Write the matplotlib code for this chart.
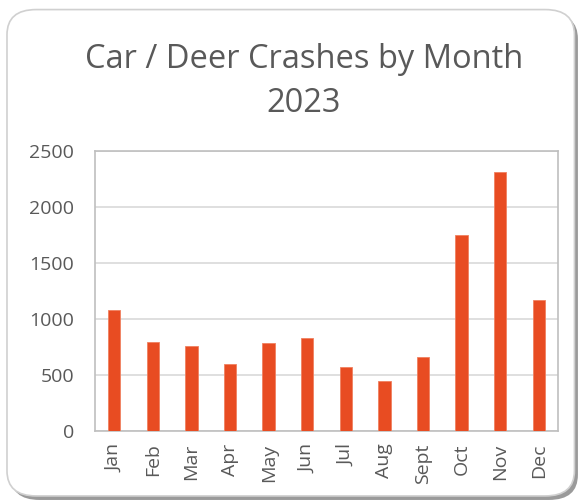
import matplotlib.pyplot as plt
from matplotlib.patches import FancyBboxPatch

months = ["Jan", "Feb", "Mar", "Apr", "May", "Jun", "Jul", "Aug", "Sept", "Oct", "Nov", "Dec"]
crashes = [1080, 795, 762, 598, 783, 828, 574, 444, 661, 1747, 2315, 1172]
yticks = [0, 500, 1000, 1500, 2000, 2500]

plt.rcParams['font.family'] = ['Open Sans', 'DejaVu Sans']

fig = plt.figure(figsize=(5.82, 5.04), dpi=100)

# rounded chart frame with a soft shadow
shadow = FancyBboxPatch((0.018, 0.008), 0.975, 0.965, boxstyle="round,pad=0,rounding_size=0.05",
                        transform=fig.transFigure, facecolor="#9a9a9a", edgecolor="none", zorder=0)
frame = FancyBboxPatch((0.012, 0.016), 0.975, 0.965, boxstyle="round,pad=0,rounding_size=0.05",
                       transform=fig.transFigure, facecolor="white", edgecolor="#d0d0d0",
                       linewidth=1.2, zorder=1)
fig.patches.extend([shadow, frame])

ax = fig.add_axes([95 / 582, 1 - 431 / 504, 463 / 582, 280 / 504])
ax.set_zorder(2)
ax.bar(range(len(months)), crashes, width=0.32, color="#e84c22", edgecolor="#f08060", linewidth=0.6, zorder=3)

ax.set_xlim(-0.5, len(months) - 0.5)
ax.set_ylim(0, 2500)
ax.set_yticks(yticks)
ax.set_xticks(range(len(months)))
ax.set_xticklabels(months, rotation=90)
ax.tick_params(axis="both", length=0, labelsize=14, colors="#595959")
ax.tick_params(axis="y", pad=15)
ax.tick_params(axis="x", pad=9)
ax.grid(axis="y", color="#d9d9d9", linewidth=1.2, zorder=0)
for s in ax.spines.values():
    s.set_color("#bfbfbf")
    s.set_linewidth(1.2)

fig.text(0.522, 0.838, "Car / Deer Crashes by Month\n2023", ha="center", va="center",
         fontsize=23.5, color="#595959", linespacing=1.42)

fig.savefig("out.png", dpi=100)
